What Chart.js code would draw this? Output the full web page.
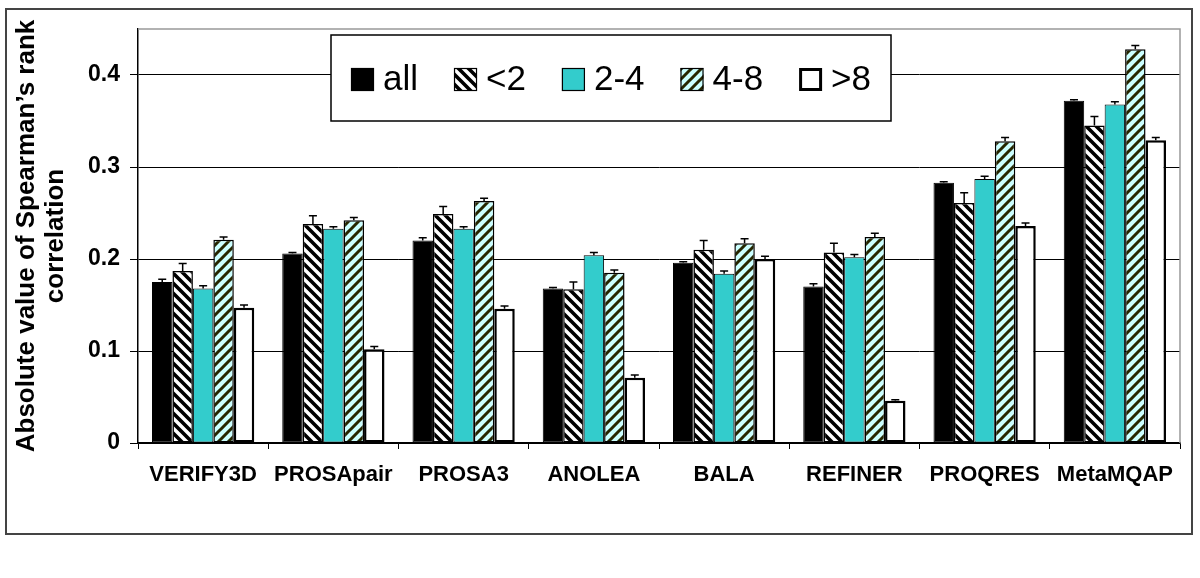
<!DOCTYPE html>
<html><head><meta charset="utf-8">
<script src="https://cdn.jsdelivr.net/npm/chart.js@4.4.1/dist/chart.umd.min.js"></script>
<style>html,body{margin:0;padding:0;background:#fff;}</style>
</head><body>
<canvas id="c" width="1200" height="578"></canvas>
<script>
const categories = ['VERIFY3D','PROSApair','PROSA3','ANOLEA','BALA','REFINER','PROQRES','MetaMQAP'];
const seriesNames = ['all','<2','2-4','4-8','>8'];
const allValues = [0.175, 0.206, 0.220, 0.168, 0.196, 0.170, 0.283, 0.372];
const lt2Values = [0.187, 0.238, 0.249, 0.167, 0.210, 0.207, 0.261, 0.345];
const r24Values = [0.168, 0.233, 0.233, 0.204, 0.184, 0.202, 0.287, 0.368];
const r48Values = [0.221, 0.242, 0.263, 0.185, 0.217, 0.224, 0.328, 0.428];
const gt8Values = [0.147, 0.102, 0.146, 0.071, 0.200, 0.046, 0.236, 0.329];
const allErrors = [0.003, 0.001, 0.003, 0.001, 0.001, 0.003, 0.001, 0.001];
const lt2Errors = [0.008, 0.009, 0.008, 0.008, 0.010, 0.010, 0.011, 0.010];
const r24Errors = [0.003, 0.002, 0.002, 0.003, 0.003, 0.003, 0.003, 0.003];
const r48Errors = [0.003, 0.003, 0.003, 0.003, 0.005, 0.004, 0.004, 0.004];
const gt8Errors = [0.003, 0.003, 0.003, 0.003, 0.003, 0.001, 0.003, 0.003];
const yTickValues = [0, 0.1, 0.2, 0.3, 0.4];
const yTitle = ['Absolute value of Spearman\u2019s rank', 'correlation'];

const FONT = 'Liberation Sans, Arial, sans-serif';

function stripePattern(bg, fg, dir, size, lw) {
  const c = document.createElement('canvas');
  c.width = size; c.height = size;
  const g = c.getContext('2d');
  g.fillStyle = bg; g.fillRect(0, 0, size, size);
  g.strokeStyle = fg; g.lineWidth = lw; g.lineCap = 'square';
  g.beginPath();
  for (let k = -1; k <= 1; k++) {
    if (dir === 'down') { g.moveTo(k*size, 0); g.lineTo(k*size + size, size); }
    else { g.moveTo(k*size, size); g.lineTo(k*size + size, 0); }
  }
  g.stroke();
  return g.createPattern(c, 'repeat');
}

const ctx = document.getElementById('c').getContext('2d');
const patDown = stripePattern('#ffffff', '#000000', 'down', 10, 3.6);
const patUp = stripePattern('#ccffff', '#262600', 'up', 10, 3.0);

const styles = [
  {bg: '#000000', bw: 1},
  {bg: patDown, bw: 1.5},
  {bg: '#33cccc', bw: 1},
  {bg: patUp, bw: 1.5},
  {bg: '#ffffff', bw: 2.5}
];
const valueSets = [allValues, lt2Values, r24Values, r48Values, gt8Values];
const errorSets = [allErrors, lt2Errors, r24Errors, r48Errors, gt8Errors];

const framePlugin = {
  id: 'frame',
  beforeDraw(chart) {
    const c = chart.ctx;
    c.save(); c.fillStyle = '#fff'; c.fillRect(0, 0, chart.width, chart.height); c.restore();
  },
  afterDraw(chart) {
    const c = chart.ctx, a = chart.chartArea;
    c.save();
    c.strokeStyle = '#999999'; c.lineWidth = 1.5;
    c.beginPath();
    c.moveTo(a.left, a.top); c.lineTo(a.right, a.top); c.lineTo(a.right, a.bottom);
    c.stroke();
    c.strokeStyle = '#444444'; c.lineWidth = 2;
    c.strokeRect(6, 9, 1186, 525);
    c.restore();
  }
};

const errorBarPlugin = {
  id: 'errbars',
  afterDatasetsDraw(chart) {
    const c = chart.ctx, y = chart.scales.y;
    c.save();
    c.strokeStyle = '#000'; c.lineWidth = 1.5;
    chart.data.datasets.forEach((ds, i) => {
      const meta = chart.getDatasetMeta(i);
      meta.data.forEach((el, j) => {
        const top = y.getPixelForValue(ds.data[j] + errorSets[i][j]);
        c.beginPath();
        c.moveTo(el.x, el.y); c.lineTo(el.x, top);
        c.moveTo(el.x - 4, top); c.lineTo(el.x + 4, top);
        c.stroke();
      });
    });
    c.restore();
  }
};

const legendPlugin = {
  id: 'boxLegend',
  afterDraw(chart) {
    const c = chart.ctx;
    const bx = 331, by = 35, bw = 560, bh = 86;
    c.save();
    c.fillStyle = '#fff'; c.fillRect(bx, by, bw, bh);
    c.strokeStyle = '#000'; c.lineWidth = 1.5; c.strokeRect(bx, by, bw, bh);
    c.font = '35px ' + FONT;
    c.textBaseline = 'middle'; c.textAlign = 'left';
    let x = 351;
    const my = 68, ms = 23;
    chart.data.datasets.forEach((ds, i) => {
      c.fillStyle = ds.backgroundColor;
      c.fillRect(x, my, ms, ms);
      c.strokeStyle = '#000'; c.lineWidth = i === 4 ? 3 : 1.2;
      c.strokeRect(x + (i===4?1.5:0.5), my + (i===4?1.5:0.5), ms - (i===4?3:1), ms - (i===4?3:1));
      c.fillStyle = '#000';
      c.fillText(ds.label, x + ms + 9, my + ms/2 + 1);
      x += ms + 9 + c.measureText(ds.label).width + 36;
    });
    c.restore();
  }
};

new Chart(ctx, {
  type: 'bar',
  data: {
    labels: categories,
    datasets: seriesNames.map((name, i) => ({
      label: name,
      data: valueSets[i],
      backgroundColor: styles[i].bg,
      borderColor: '#000',
      borderWidth: styles[i].bw,
      borderSkipped: false
    }))
  },
  options: {
    responsive: false, animation: false, devicePixelRatio: 1,
    layout: {padding: {top: 29, right: 20, left: 0, bottom: 0}},
    plugins: {legend: {display: false}, tooltip: {enabled: false}},
    datasets: {bar: {categoryPercentage: 0.785, barPercentage: 1}},
    scales: {
      x: {
        grid: {display: true, drawOnChartArea: false, drawTicks: true, tickLength: 6, color: '#000', offset: true},
        border: {color: '#000', width: 1.5},
        ticks: {color: '#000', font: {family: FONT, weight: 'bold', size: 22}, padding: 13, maxRotation: 0, autoSkip: false},
        afterFit(s) { s.height = 135; }
      },
      y: {
        min: 0, max: 0.45,
        afterBuildTicks(s) { s.ticks = yTickValues.map(v => ({value: v})); },
        grid: {color: '#000', lineWidth: 1, tickLength: 8, drawTicks: true},
        border: {color: '#000', width: 1.5},
        ticks: {color: '#000', font: {family: FONT, weight: 'bold', size: 23}, padding: 10,
                callback: v => v === 0 ? '0' : Number(v).toFixed(1)},
        title: {display: true, text: yTitle, color: '#000',
                font: {family: FONT, weight: 'bold', size: 26, lineHeight: 1.12},
                padding: {top: 12, bottom: 0}},
        afterFit(s) { s.width = 138; }
      }
    }
  },
  plugins: [framePlugin, errorBarPlugin, legendPlugin]
});
</script>
</body></html>
